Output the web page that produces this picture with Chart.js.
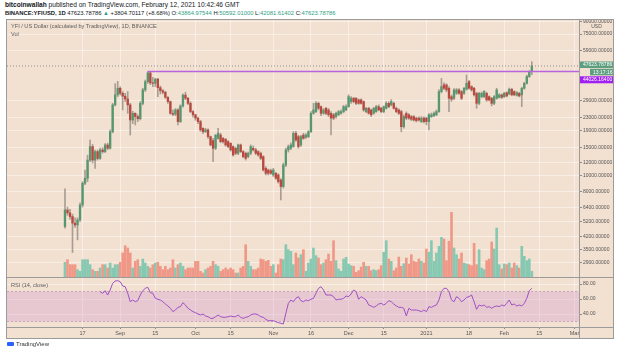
<!DOCTYPE html>
<html><head><meta charset="utf-8">
<script src="https://cdn.jsdelivr.net/npm/chart.js@4.4.1/dist/chart.umd.min.js"></script>
<style>
html,body{margin:0;padding:0;background:#fff;width:619px;height:347px;overflow:hidden;font-family:"Liberation Sans",Arial,sans-serif;}
.hdr{position:absolute;left:5px;white-space:nowrap;color:#131722;line-height:7px;}
.hdr .g{color:#2e9e82;}
#panel{position:absolute;left:6px;top:19px;width:608px;height:320px;background:#f2e1d1;border:1px solid #9b9b9b;box-sizing:border-box;}
canvas{position:absolute;}
.sep{position:absolute;background:#9b9b9b;}
.lbl{position:absolute;left:11px;font-size:5.6px;color:#5d5d5d;white-space:nowrap;line-height:6px;}
#tv{position:absolute;left:16px;top:341px;font-size:6px;color:#333;white-space:nowrap;}
#tvi{position:absolute;left:7px;top:342px;width:7px;height:4px;background:#2962ff;border-radius:1px;}
</style></head>
<body>
<div class="hdr" id="h1" style="top:1px;font-size:6.6px"></div>
<div class="hdr" id="h2" style="top:10px;font-size:5.85px"></div>
<div id="panel"></div>
<canvas id="cA" width="606" height="257" style="left:7px;top:20px"></canvas>
<canvas id="cB" width="606" height="60" style="left:7px;top:278px"></canvas>
<div class="sep" style="left:7px;top:277px;width:606px;height:1px"></div>
<div class="sep" style="left:7px;top:327px;width:606px;height:1px"></div>
<div class="sep" style="left:579px;top:20px;width:1px;height:318px"></div>
<div class="lbl" style="top:23px">YFI / US Dollar (calculated by TradingView), 1D, BINANCE</div>
<div class="lbl" style="top:31px">Vol</div>
<div class="lbl" style="top:282px">RSI (14, close)</div>
<div id="tvi"></div><div id="tv">TradingView</div>
<script>
// ---------- data ----------
const startDate = '2020-08-10';
const open = [4860,6150,5900,5600,5100,4970,5340,6600,9000,9650,
12500,15140,12500,14100,12800,14440,14100,15500,14800,18700,
27400,31600,34700,32300,31000,29800,27400,22100,24300,23200,
22500,28000,33900,38100,43200,37500,37200,39500,35000,33500,
32800,30500,28700,24300,24000,25500,21600,27000,31500,30100,
28000,24900,23800,22700,21600,19650,18700,19200,17450,16500,
14800,17000,17850,17000,16800,16250,15860,15140,14780,13770,
15500,14100,13770,13130,
13770,14780,14440,14100,13770,13130,11120,10860,10760,10120,
10360,10120,9420,8580,11660,14440,14780,15140,18300,17450,
15500,17850,17280,17450,18700,24300,24900,28000,26700,24300,
26100,25500,24300,23800,23200,23800,24300,24900,25500,26700,
28700,30100,30100,29400,29400,28700,24900,26100,25500,24300,
24900,26700,26100,24900,26100,28000,27400,28000,26100,25500,
24900,20100,24300,23800,23200,23200,22700,22700,21600,22700,
22700,21600,23200,23500,23800,24900,33100,36400,36400,34700,
30800,30100,32300,33900,33100,32300,34200,38100,35500,34700,
32300,28000,30800,30800,32300,30800,30100,28000,30100,30500,
31600,30800,32600,32000,34200,33100,31400,32300,31600,34700,
37200,41000,43864.97544];
const high = [8300,6400,6200,5800,5500,5500,6800,9200,10860,13400,
16600,15600,14400,14440,14800,14900,15800,15900,19200,28000,
37000,38300,35500,33100,32300,33100,28000,25000,24500,23800,
28700,34700,39000,44026.164,43800,40500,40000,39900,35800,34000,
33300,30800,29000,25500,26000,26000,27400,32000,32800,30500,
28700,25300,24000,23000,22000,19800,19600,19500,17600,17000,
18000,19650,18300,17300,17000,16500,16000,15300,15000,15700,
15700,14300,14000,14000,
15500,15300,14800,14300,14000,13300,11400,11000,11000,11100,
10500,10300,9600,12000,14800,15500,16000,18700,18800,17800,
17800,18300,18200,19000,24900,28000,28700,28500,27000,26000,
26500,26000,24900,24300,24700,25300,25500,27200,27400,31600,
30800,30500,30400,29800,29900,29000,26500,26500,25800,26500,
27200,27400,26500,27000,28700,28600,29500,28500,26600,25900,
25400,23800,24800,24200,23600,23500,23000,23100,23200,23100,
23000,24200,24400,24800,25500,34000,39900,37500,37000,35500,
31500,34500,34600,34500,33600,35200,41900,38800,36000,35200,
32800,32800,32900,33600,32800,31200,30500,31300,34700,32100,
32000,32800,33000,34800,34700,33500,33100,32800,35200,37800,
41800,44600,50592.01];
const low = [4750,5700,5400,3360,4800,4020,5200,6400,8800,9200,
12200,12000,11120,12500,12600,13800,13900,14500,14600,18400,
27000,30800,31500,25500,28700,24300,17850,21000,20600,21600,
22100,27400,33100,37200,36500,35500,35500,30800,32000,32000,
30000,28000,24000,23500,23500,20600,21300,26500,29500,27500,
24500,23000,22000,21000,18800,18200,18500,17000,15300,12230,
14500,16800,16000,15900,15200,14900,14200,13200,13500,13500,
13900,12900,12500,12900,
13500,14200,13500,13200,12600,10700,10100,10100,10200,9900,
9500,9000,7090,8400,11400,14000,14500,15000,16300,14800,
15200,16800,17000,17200,18500,24000,24500,25500,23500,24000,
23800,23200,17850,22200,22700,23500,24000,24500,25200,26500,
28000,28200,27500,27600,27700,25000,24500,24000,23200,24000,
24600,25200,24500,24500,25800,26300,27000,25800,24500,23900,
18700,19700,22200,22300,21900,21700,21500,21700,21300,21200,
20600,19200,22900,23200,23500,24600,32500,34000,33000,24900,
28800,29500,31800,31800,29500,31800,33800,34200,33300,31000,
26100,27500,30300,30300,28800,29000,27000,27500,29700,30200,
30000,30400,30700,31600,31200,31200,31000,30700,26700,34200,
36800,40500,42081.61402];
const close = [6150,5900,5600,5100,4970,5340,6600,9000,9650,12500,
15140,12500,14100,12800,14440,14100,15500,14800,18700,27400,
31600,34700,32300,31000,29800,27400,22100,24300,23200,22500,
28000,33900,38100,43200,37500,37200,39500,35000,33500,32800,
30500,28700,24300,24000,25500,21600,27000,31500,30100,28000,
24900,23800,22700,21600,19200,18700,19200,17450,15500,14780,
17800,18300,16250,16250,15500,15140,14440,13440,13770,15500,
14100,13130,12820,13770,
15140,14440,13770,13440,12820,10860,10360,10360,10360,10860,
9650,9200,8580,11660,14440,15140,15500,18300,16650,15140,
17450,17000,17850,18700,24300,25500,28000,26100,24300,25500,
24300,23800,22700,22700,24300,24900,24900,26700,26700,30800,
30100,28700,28000,28000,28000,25500,26100,24300,23800,26100,
26700,25500,24900,26700,28000,26700,28700,26100,24900,24300,
20100,23200,22700,22700,22300,22100,21900,22100,22700,21600,
21600,23800,23800,24300,24900,33100,35500,34700,33900,30100,
29700,33900,33900,32300,30100,34700,37200,34700,33900,31600,
28000,32300,32300,33100,29400,29400,28000,30800,33900,31600,
30500,32300,31100,34200,31600,31600,32600,31100,34700,37200,
41000,43819.08669,47623.78786];
const volume = [44,52,37,37,37,22,17,52,52,52,
37,22,17,17,27,37,37,27,42,27,
37,37,44,72,94,87,72,27,47,52,
32,54,42,32,27,37,42,44,32,22,
32,22,27,52,27,37,42,32,22,27,
27,27,47,47,17,12,22,27,32,47,
37,32,17,22,27,22,27,22,12,12,
27,32,97,47,32,22,22,27,54,52,
47,50,32,37,12,37,54,52,97,82,
77,37,72,57,67,82,
17,42,54,87,64,57,37,42,52,69,
47,109,49,24,17,54,59,39,34,32,
14,19,30,44,32,32,19,22,19,22,
34,74,109,54,47,19,27,60,32,40,
57,39,67,47,44,54,47,42,84,74,
109,47,72,92,119,114,49,107,194,87,
67,54,72,42,39,37,34,101,37,82,
27,22,49,54,105,84,147,37,24,39,
37,42,27,42,34,27,92,62,49,54,
17];
const rsi = [null,null,null,null,null,null,null,null,null,null,null,null,null,null,
69.8,67.6,71.1,65.3,72,80.9,84,84.4,83.1,77.3,
76.4,67.6,56.4,58.7,56.4,57.8,65.3,71.1,74.2,75.6,
68.4,67.6,60.9,59.6,58.7,56.4,53.3,50.7,47.6,43.1,
45.3,48.9,49.8,55.1,52,47.6,45.3,43.1,41.8,40,
38.7,40,37.3,36.4,34.2,34.2,36.4,38.7,36.4,35.6,
35.6,36.4,37.3,36.4,36.4,38.7,35.6,34.2,35.6,36.4,
38.7,40,40,38.7,36.4,35.6,32.9,31.1,31.1,31.1,
29.8,28.4,27.6,26.7,40.9,54.2,58.7,56.4,60.9,63.1,
57.8,56.4,58.7,57.8,
59.6,60.9,67.6,74.2,76.4,72,65.3,65.3,65.3,63.1,
58.7,59.6,59.6,60.9,64,63.1,66.7,72,69.8,59.6,
63.1,60.9,58.7,52,50.7,48.9,50.7,53.3,54.2,52,
54.2,57.8,56.4,53.3,50.7,48.9,48.9,47.6,37.3,47.6,
45.3,45.3,45.3,44.4,43.1,45.3,43.1,49.8,48.9,50.7,
52,58.7,69.8,74.2,74.2,69.8,58.7,56.4,63.1,60.9,
56.4,58.7,62.2,63.1,65.3,56.4,46.2,52,50.7,52,
48.9,49.8,47.6,49.8,50.7,49.8,52,50.7,54.2,58.7,
52,53.3,50.7,52,50.7,54.2,60.9,71.1,74.2];
const priceTicks = [2900,3500,4200,5200,6400,8000,10000,12000,15000,19000,23000,29000,59000,75000,90000];
const rsiTicks = [40,60,80];
const rsiBand = [30,70];
const timeTickDates = ['2020-08-17','2020-09-01','2020-09-15','2020-10-01','2020-10-15','2020-11-01','2020-11-16','2020-12-01','2020-12-15','2021-01-01','2021-01-18','2021-02-01','2021-02-15','2021-03-01'];
const timeTickLabels = ['17','Sep','15','Oct','15','Nov','16','Dec','15','2021','18','Feb','15','Mar'];
const resistanceLevel = 44026.164;
const resistanceDate = '2020-09-12';
const countdown = '13:17:16';

// ---------- helpers ----------
const FONT = '"Liberation Sans", Arial, sans-serif';
const dayIdx = d => Math.round((Date.parse(d) - Date.parse(startDate)) / 86400000);
const tickIdx = timeTickDates.map(dayIdx);
const N = close.length;
const idx = Array.from({length: N}, (_, i) => i);
const X_MIN = -23.1, X_MAX = 204.8;
const Y_MIN = 2372, Y_MAX = 91560;
const R_MIN = 22.67, R_MAX = 88;
const VOL_MAX = 771;
const GRID = 'rgba(255,255,255,0.45)';
const up = i => close[i] >= open[i];
const bodyColors = idx.map(i => up(i) ? '#56976f' : '#b9493f');
const volColors = idx.map(i => up(i) ? '#86c8b1' : '#f09888');
const lastClose = close[N-1], prevClose = close[N-2];
const chg = lastClose - prevClose;

// header
document.getElementById('h1').innerHTML = '<b>bitcoinwallah</b> published on TradingView.com, February 12, 2021 10:42:46 GMT';
document.getElementById('h2').innerHTML = '<b>BINANCE:YFIUSD, 1D</b> ' + lastClose.toFixed(5) +
  ' <span class="g">&#9650;</span> +' + chg.toFixed(5) + ' (+' + (chg / prevClose * 100).toFixed(2) + '%) O:<span class="g">' +
  open[N-1].toFixed(5) + '</span> H:<span class="g">' + high[N-1].toFixed(5) + '</span> L:<span class="g">' +
  low[N-1].toFixed(5) + '</span> C:<span class="g">' + lastClose.toFixed(5) + '</span>';

const priceLabels = {
  id: 'priceLabels',
  afterDraw(chart) {
    const {ctx, chartArea: a, scales: {y}} = chart;
    const x0 = a.right + 1, w = chart.width - x0;
    const yl = y.getPixelForValue(lastClose);
    ctx.save();
    ctx.font = '5px ' + FONT;
    ctx.textBaseline = 'middle';
    ctx.textAlign = 'left';
    const box = (x, top, h, bg, txt) => {
      ctx.fillStyle = bg; ctx.fillRect(x, top, chart.width - x, h);
      ctx.fillStyle = '#ffffff'; ctx.fillText(txt, x + 3, top + h / 2 + 0.3);
    };
    box(x0, yl - 4.5, 6.5, '#5c9e7f', lastClose.toFixed(5));
    box(x0 + 10, yl + 2.8, 6.5, '#5c9e7f', countdown);
    box(x0, yl + 10.3, 7, '#a21ff2', resistanceLevel.toFixed(5));
    ctx.fillStyle = '#555'; ctx.textAlign = 'center';
    ctx.fillText('USD', x0 + w / 2, 7);
    ctx.restore();
  }
};

const xBase = {
  type: 'linear', min: X_MIN, max: X_MAX, offset: false, bounds: 'data',
  afterBuildTicks: s => { s.ticks = tickIdx.map(v => ({value: v})); }
};

new Chart(document.getElementById('cA'), {
  type: 'bar',
  data: {datasets: [
    {type: 'line', data: [{x: X_MIN, y: lastClose}, {x: X_MAX, y: lastClose}], borderColor: '#8f8f8f', borderWidth: 1, borderDash: [1, 2], pointRadius: 0, yAxisID: 'y', order: 0},
    {type: 'line', data: [{x: dayIdx(resistanceDate), y: resistanceLevel}, {x: X_MAX, y: resistanceLevel}], borderColor: '#b963e4', borderWidth: 1.6, pointRadius: 0, yAxisID: 'y', order: 1},
    {data: idx.map(i => ({x: i, y: [open[i], close[i]]})), backgroundColor: bodyColors, barThickness: 1.7, grouped: false, yAxisID: 'y', order: 2},
    {data: idx.map(i => ({x: i, y: [low[i], high[i]]})), backgroundColor: 'rgba(120,112,105,0.6)', barThickness: 1, grouped: false, yAxisID: 'y', order: 3},
    {data: idx.map(i => ({x: i, y: volume[i]})), backgroundColor: volColors, barThickness: 2, grouped: false, yAxisID: 'yv', order: 4}
  ]},
  options: {
    responsive: false, animation: false, devicePixelRatio: 1,
    layout: {padding: 0},
    plugins: {legend: {display: false}, tooltip: {enabled: false}},
    scales: {
      x: Object.assign({}, xBase, {
        ticks: {display: false}, grid: {color: GRID, drawTicks: false, offset: false}, border: {display: false},
        afterFit: s => { s.height = 0; s.paddingLeft = 0; s.paddingRight = 0; }
      }),
      y: {
        type: 'logarithmic', position: 'right', min: Y_MIN, max: Y_MAX, bounds: 'data',
        afterBuildTicks: s => { s.ticks = priceTicks.map(v => ({value: v})); },
        ticks: {callback: v => Number(v).toFixed(5), font: {size: 5, family: FONT}, color: '#555', padding: 1, autoSkip: false},
        grid: {color: GRID, tickColor: '#8a8a8a', tickLength: 3},
        border: {display: false},
        afterFit: s => { s.width = 34; s.paddingTop = 0; s.paddingBottom = 0; }
      },
      yv: {type: 'linear', display: false, min: 0, max: VOL_MAX, position: 'left'}
    }
  },
  plugins: [priceLabels]
});

const coverAxisCorner = {
  id: 'cover',
  afterDraw(chart) {
    const {ctx, chartArea: a} = chart;
    ctx.save();
    ctx.fillStyle = '#f2e1d1';
    ctx.fillRect(a.right + 1, a.bottom + 1, chart.width - a.right, chart.height - a.bottom);
    ctx.restore();
  }
};

new Chart(document.getElementById('cB'), {
  type: 'line',
  data: {datasets: [
    {data: idx.map(i => ({x: i, y: rsi[i]})), borderColor: '#9d4fc4', borderWidth: 1, pointRadius: 0, order: 0, spanGaps: false},
    {data: [{x: X_MIN, y: rsiBand[1]}, {x: X_MAX, y: rsiBand[1]}], borderColor: 'rgba(170,130,170,0.7)', borderWidth: 0.8, borderDash: [2, 2], pointRadius: 0, fill: {value: rsiBand[0]}, backgroundColor: 'rgba(205,135,205,0.28)', order: 1},
    {data: [{x: X_MIN, y: rsiBand[0]}, {x: X_MAX, y: rsiBand[0]}], borderColor: 'rgba(170,130,170,0.7)', borderWidth: 0.8, borderDash: [2, 2], pointRadius: 0, fill: false, order: 2}
  ]},
  options: {
    responsive: false, animation: false, devicePixelRatio: 1,
    layout: {padding: 0},
    plugins: {legend: {display: false}, tooltip: {enabled: false}},
    scales: {
      x: Object.assign({}, xBase, {
        ticks: {autoSkip: false, maxRotation: 0, font: {size: 5.5, family: FONT}, color: '#555', padding: 1, callback: (v, i) => timeTickLabels[i]},
        grid: {color: GRID, offset: false, tickColor: '#8a8a8a', tickLength: 2}, border: {display: false},
        afterFit: s => { s.height = 11; s.paddingLeft = 0; s.paddingRight = 0; }
      }),
      y: {
        type: 'linear', position: 'right', min: R_MIN, max: R_MAX, bounds: 'data',
        afterBuildTicks: s => { s.ticks = rsiTicks.map(v => ({value: v})); },
        ticks: {callback: v => Number(v).toFixed(2), font: {size: 5, family: FONT}, color: '#555', padding: 1, autoSkip: false},
        grid: {color: GRID, tickColor: '#8a8a8a', tickLength: 3},
        border: {display: false},
        afterFit: s => { s.width = 34; s.paddingTop = 0; s.paddingBottom = 0; }
      }
    }
  },
  plugins: [coverAxisCorner]
});
</script>
</body></html>
